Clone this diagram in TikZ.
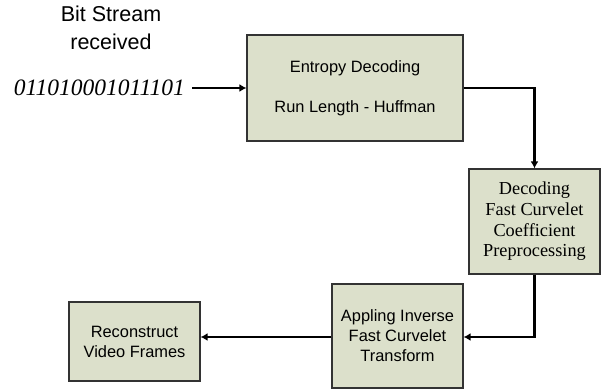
\documentclass[tikz,border=0pt]{standalone}
\usepackage{fontspec}
\setmainfont{Liberation Sans}
\newfontfamily\timesf{Liberation Serif}
\usetikzlibrary{arrows.meta}
\definecolor{boxfill}{RGB}{220,224,203}
\tikzset{
  blockbox/.style={draw=black!80, line width=1.2pt, fill=boxfill, align=center,
    inner sep=2pt, font=\fontsize{16.4}{20}\selectfont},
  flow/.style={line width=2.6pt, -{Latex[length=7pt,width=8pt]}},
}

\begin{document}
\begin{tikzpicture}[x=1pt, y=1pt]
  \useasboundingbox (0,0) rectangle (613,389);
  % Input
  \node[align=center, font=\fontsize{21.5}{28}\selectfont] (title) at (111,361) {Bit Stream\\received};
  \node[anchor=east, inner sep=0pt, font=\timesf\itshape\fontsize{23.5}{26}\selectfont] (bits) at (185,301) {011010001011101};

  % Blocks
  \node[blockbox, minimum width=216, minimum height=106] (ent) at (355,301)
    {Entropy Decoding\\[20pt]Run Length - Huffman};
  \node[blockbox, minimum width=131, minimum height=105, font=\timesf\fontsize{18.3}{20.7}\selectfont] (dec) at (534.5,167.5)
    {Decoding\\Fast Curvelet\\Coefficient\\Preprocessing};
  \node[blockbox, minimum width=131, minimum height=104] (inv) at (397.5,53)
    {Appling Inverse\\Fast Curvelet\\Transform};
  \node[blockbox, minimum width=131, minimum height=79] (rec) at (134.5,47.5)
    {Reconstruct\\Video Frames};

  % Connectors
  \draw[flow] ([xshift=7pt]bits.east) -- (ent.west);
  \draw[flow] (ent.east) -| (dec.north);
  \draw[flow] (dec.south) |- ([yshift=-1pt]inv.east);
  \draw[flow] ([yshift=-1pt]inv.west) -- ([yshift=-1pt]inv.west -| rec.east);
\end{tikzpicture}
\end{document}
